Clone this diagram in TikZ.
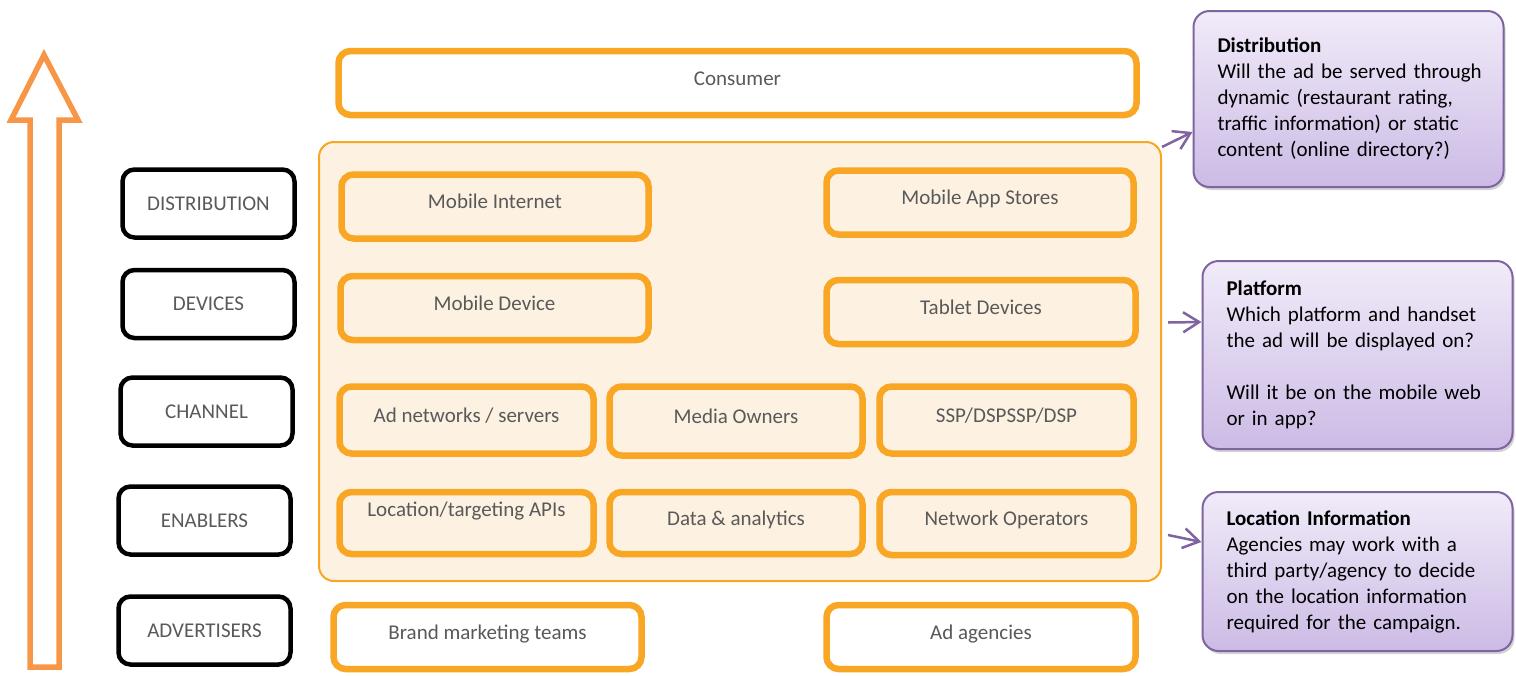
\documentclass[tikz,border=0pt]{standalone}
\usepackage{fontspec}
\setmainfont{Carlito}
\usetikzlibrary{arrows.meta, positioning, shadows}
\definecolor{mkorange}{RGB}{248,166,36}
\definecolor{arroworange}{RGB}{247,150,70}
\definecolor{cream}{RGB}{253,242,226}
\definecolor{notepurple}{RGB}{128,100,162}
\definecolor{notetop}{RGB}{241,235,249}
\definecolor{notebottom}{RGB}{204,187,229}
\definecolor{txtgray}{RGB}{89,89,89}

\begin{document}
\begin{tikzpicture}[x=1pt, y=-1pt,
    every node/.style={font=\fontsize{21}{26}\selectfont},
    tier/.style={rectangle, rounded corners=12pt, draw=black, line width=4.5pt,
                 minimum width=172pt, minimum height=68pt, text=txtgray, inner sep=2pt},
    part/.style={rectangle, rounded corners=12pt, draw=mkorange, line width=6.5pt,
                 fill=cream, minimum height=64pt, text=txtgray, inner sep=2pt,
                 text height=15pt, text depth=11pt},
    outer/.style={part, fill=white},
    note/.style={rectangle, rounded corners=16pt, draw=notepurple, line width=2pt,
                 top color=notetop, bottom color=notebottom,
                 drop shadow={shadow xshift=2pt, shadow yshift=-3pt, opacity=0.35},
                 align=left, text width=262pt, inner xsep=24pt},
    conn/.style={-{Straight Barb[length=16pt, width=20pt]}, draw=notepurple, line width=2.5pt}]
    \useasboundingbox (0,0) rectangle (1516,675);

    % Upward arrow
    \draw[arroworange, line width=5.5pt, line join=miter]
        (44,55) -- (78,120) -- (59,120) -- (59,667) -- (30,667) -- (30,120) -- (11,120) -- cycle;

    % Tiers
    \node[tier] (tdist) at (208.5,203.5) {DISTRIBUTION};
    \node[tier] (tdev) at (208.5,304) {DEVICES};
    \node[tier] (tchan) at (206.5,411.5) {CHANNEL};
    \node[tier] (tenab) at (204.5,520.5) {ENABLERS};
    \node[tier] (tadv) at (204.5,630.5) {ADVERTISERS};

    % Ecosystem
    \node[outer, minimum width=798pt] (consumer) at (737.5,83) {Consumer};
    \node[rectangle, rounded corners=15pt, draw=mkorange, line width=2pt, fill=cream,
          minimum width=842pt, minimum height=439pt] (container) at (740,361.5) {};
    \node[part, minimum width=307pt] (mobweb) at (495,206.5) {Mobile Internet};
    \node[part, minimum width=307pt] (appstore) at (980,202.5) {Mobile App Stores};
    \node[part, minimum width=308pt] (mobdev) at (494.5,308) {Mobile Device};
    \node[part, minimum width=309pt] (tablet) at (981,312) {Tablet Devices};
    \node[part, minimum width=254pt, minimum height=67pt] (adnet) at (466.5,420) {Ad networks / servers};
    \node[part, minimum width=253pt, minimum height=69pt] (media) at (736,421) {Media Owners};
    \node[part, minimum width=254pt, minimum height=67pt] (ssp) at (1006.5,420) {SSP/DSPSSP/DSP};
    \node[part, minimum width=254pt, minimum height=62pt, text depth=28pt] (locapi) at (466.5,523) {Location/targeting APIs};
    \node[part, minimum width=253pt, minimum height=62pt] (data) at (736,523) {Data \& analytics};
    \node[part, minimum width=254pt, minimum height=63pt] (netop) at (1006.5,523.5) {Network Operators};
    \node[outer, minimum width=308pt] (brand) at (487.5,637) {Brand marketing teams};
    \node[outer, minimum width=309pt] (agency) at (981,637) {Ad agencies};

    % Notes
    \node[note, minimum height=176pt] (distinfo) at (1348.5,99)
        {\textbf{Distribution}\\\mbox{Will the ad be served through}\\dynamic (restaurant rating,\\traffic information) or static\\content (online directory?)};
    \node[note, minimum height=188pt] (platinfo) at (1357.5,355)
        {\textbf{Platform}\\Which platform and handset\\the ad will be displayed on?\\[26pt]Will it be on the mobile web\\or in app?};
    \node[note, minimum height=159pt] (locinfo) at (1357.5,571.5)
        {\textbf{Location Information}\\Agencies may work with a\\third party/agency to decide\\on the location information\\required for the campaign.};

    % Arrows
    \draw[conn] ([yshift=-6pt]container.north east) -- ([yshift=-33pt]distinfo.west);
    \draw[conn] ([xshift=6pt, yshift=39pt]container.east) -- ([yshift=33pt]platinfo.west);
    \draw[conn] ([xshift=6pt, yshift=-173.5pt]container.east) -- ([yshift=29.5pt]locinfo.west);
\end{tikzpicture}
\end{document}
